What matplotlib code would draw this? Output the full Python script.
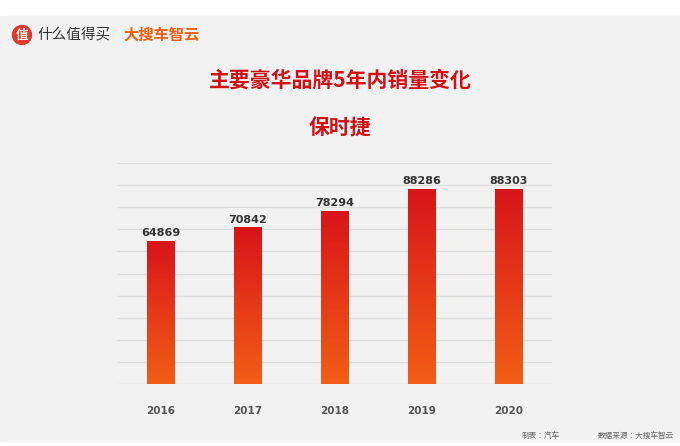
import matplotlib
matplotlib.use("Agg")
import matplotlib.pyplot as plt
import numpy as np
from matplotlib.colors import LinearSegmentedColormap
from matplotlib.patches import Rectangle, Circle
from matplotlib import font_manager as fm

years = ["2016", "2017", "2018", "2019", "2020"]
sales = [64869, 70842, 78294, 88286, 88303]

names = sorted({f.name for f in fm.fontManager.ttflist if "CJK" in f.name})
CJK = names[0] if names else "DejaVu Sans"
for n in names:
    if "SC" in n:
        CJK = n
        break
plt.rcParams["font.family"] = [CJK, "DejaVu Sans"]

W, H = 680, 446
fig = plt.figure(figsize=(6.8, 4.46), dpi=100)
fig.patch.set_facecolor("white")
bg = fig.add_axes([0, 0, 1, 1]); bg.set_axis_off()
bg.set_xlim(0, W); bg.set_ylim(H, 0)
bg.add_patch(Rectangle((0, 16), W, 425, color="#f2f2f2", zorder=0))
bg.add_patch(Circle((22, 35), 9.5, color="#e0392b"))
bg.text(22, 35.5, "值", color="white", fontsize=9, ha="center", va="center", weight="bold")
bg.text(37, 35, "什么值得买", color="#333333", fontsize=10.5, ha="left", va="center")
bg.text(123, 35, "大搜车智云", color="#f06010", fontsize=11, ha="left", va="center", weight="bold", style="italic")
bg.text(340, 80, "主要豪华品牌5年内销量变化", color="#d40f14", fontsize=15, ha="center", va="center", weight="bold")
bg.text(340, 128, "保时捷", color="#d40f14", fontsize=15, ha="center", va="center", weight="bold")
bg.text(522, 436, "制表：汽车", color="#666666", fontsize=5.5, ha="left", va="center")
bg.text(598, 436, "数据来源：大搜车智云", color="#666666", fontsize=5.5, ha="left", va="center")

ax = fig.add_axes([117 / W, 1 - 384 / H, 435 / W, (384 - 163) / H])
ax.set_facecolor("none")
ax.set_xlim(-0.5, 4.5); ax.set_ylim(0, 100000)
ax.set_yticks(np.arange(0, 100001, 10000))
ax.grid(axis="y", color="#dedede", linewidth=1)
ax.set_axisbelow(True)
for s in ax.spines.values(): s.set_visible(False)
ax.tick_params(left=False, bottom=False, labelleft=False)
ax.set_xticks(range(len(years)))
ax.set_xticklabels(years, fontsize=7.5, color="#555555", fontweight="bold", family="DejaVu Sans")
ax.tick_params(axis="x", pad=12)

cmap = LinearSegmentedColormap.from_list("g", ["#f25e16", "#d8141a"])
grad = np.linspace(0, 1, 256).reshape(-1, 1)
bw = 0.32
bars = ax.bar(range(len(years)), sales, width=bw, color="none", zorder=2)
for b, v in zip(bars, sales):
    x0 = b.get_x()
    im = ax.imshow(grad, cmap=cmap, aspect="auto", origin="lower",
                   extent=[x0, x0 + bw, 0, v], zorder=2)
    im.set_clip_path(b)
    ax.text(b.get_x() + bw / 2, v + 1200, str(v), ha="center", va="bottom",
            fontsize=8, fontweight="bold", color="#333333", family="DejaVu Sans")
ax.set_xlim(-0.5, 4.5); ax.set_ylim(0, 100000)
fig.savefig("out.png", dpi=100)
